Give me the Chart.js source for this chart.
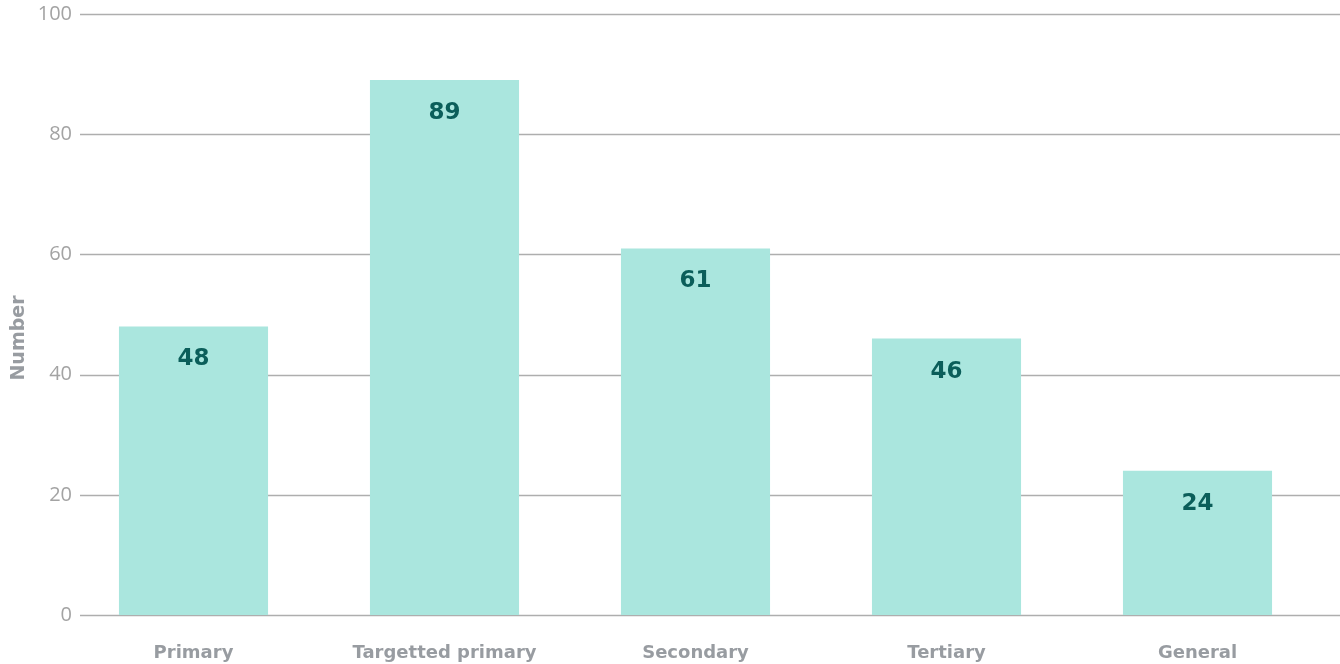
<!DOCTYPE html>
<html>
<head>
<meta charset="utf-8">
<script src="https://cdn.jsdelivr.net/npm/chart.js@4/dist/chart.umd.min.js"></script>
<style>
  html, body { margin: 0; padding: 0; background: #ffffff; }
  #wrap { width: 1340px; height: 664px; }
</style>
</head>
<body>
<div id="wrap"><canvas id="c" width="1340" height="664"></canvas></div>
<script>
const categories = ["Primary", "Targetted primary", "Secondary", "Tertiary", "General"];
const values = [48, 89, 61, 46, 24];
const yTicks = [0, 20, 40, 60, 80, 100];
const yTitle = "Number";

const BOLD_FONT = "'DejaVu Sans', sans-serif";
const TICK_FONT = "'Open Sans', 'DejaVu Sans', sans-serif";

// Gridlines and y tick labels, positioned through the chart's own y scale
const gridPlugin = {
  id: 'customGrid',
  beforeDatasetsDraw(chart) {
    const ctx = chart.ctx;
    const y = chart.scales.y;
    ctx.save();
    ctx.strokeStyle = '#aeaeae';
    ctx.lineWidth = 1.5;
    yTicks.forEach(v => {
      const py = Math.round(y.getPixelForValue(v)) + 0.5;
      ctx.beginPath();
      ctx.moveTo(80, py);
      ctx.lineTo(chart.width, py);
      ctx.stroke();
    });
    ctx.fillStyle = '#a3a3a3';
    ctx.font = "normal 20px " + TICK_FONT;
    ctx.textAlign = 'right';
    ctx.textBaseline = 'middle';
    yTicks.forEach(v => {
      const py = y.getPixelForValue(v);
      ctx.fillText(String(v), 72, py);
    });
    ctx.restore();
  }
};

const labelPlugin = {
  id: 'barLabels',
  afterDatasetsDraw(chart) {
    const ctx = chart.ctx;
    const meta = chart.getDatasetMeta(0);
    ctx.save();
    ctx.fillStyle = '#0b5e5a';
    ctx.font = "bold 23px " + BOLD_FONT;
    ctx.textAlign = 'center';
    ctx.textBaseline = 'middle';
    meta.data.forEach((bar, i) => {
      ctx.fillText(String(values[i]), bar.x, bar.y + 33);
    });
    ctx.restore();
  }
};

const titlePlugin = {
  id: 'yTitle',
  afterDraw(chart) {
    const ctx = chart.ctx;
    ctx.save();
    ctx.translate(19, 338);
    ctx.rotate(-Math.PI / 2);
    ctx.fillStyle = '#989ca1';
    ctx.font = "bold 19px " + BOLD_FONT;
    ctx.textAlign = 'center';
    ctx.textBaseline = 'middle';
    ctx.fillText(yTitle, 0, 0);
    ctx.restore();
  }
};

new Chart(document.getElementById('c'), {
  type: 'bar',
  data: {
    labels: categories,
    datasets: [{
      data: values,
      backgroundColor: '#aae6de',
      borderWidth: 0,
      barPercentage: 0.594,
      categoryPercentage: 1.0
    }]
  },
  options: {
    responsive: false,
    devicePixelRatio: 1,
    animation: false,
    layout: { padding: { top: 14, right: 17, bottom: 0, left: 0 } },
    plugins: {
      legend: { display: false },
      tooltip: { enabled: false },
      title: { display: false }
    },
    scales: {
      x: {
        grid: { display: false, drawTicks: false },
        border: { display: false },
        ticks: {
          color: '#989ca1',
          font: { family: BOLD_FONT, size: 18, weight: 'bold' },
          padding: 28,
          maxRotation: 0
        },
        afterFit(scale) { scale.height = 49; }
      },
      y: {
        min: 0,
        max: 100,
        grid: { display: false, drawTicks: false },
        border: { display: false },
        afterBuildTicks(scale) { scale.ticks = yTicks.map(v => ({ value: v })); },
        ticks: { display: false },
        afterFit(scale) { scale.width = 68; }
      }
    }
  },
  plugins: [gridPlugin, labelPlugin, titlePlugin]
});
</script>
</body>
</html>
